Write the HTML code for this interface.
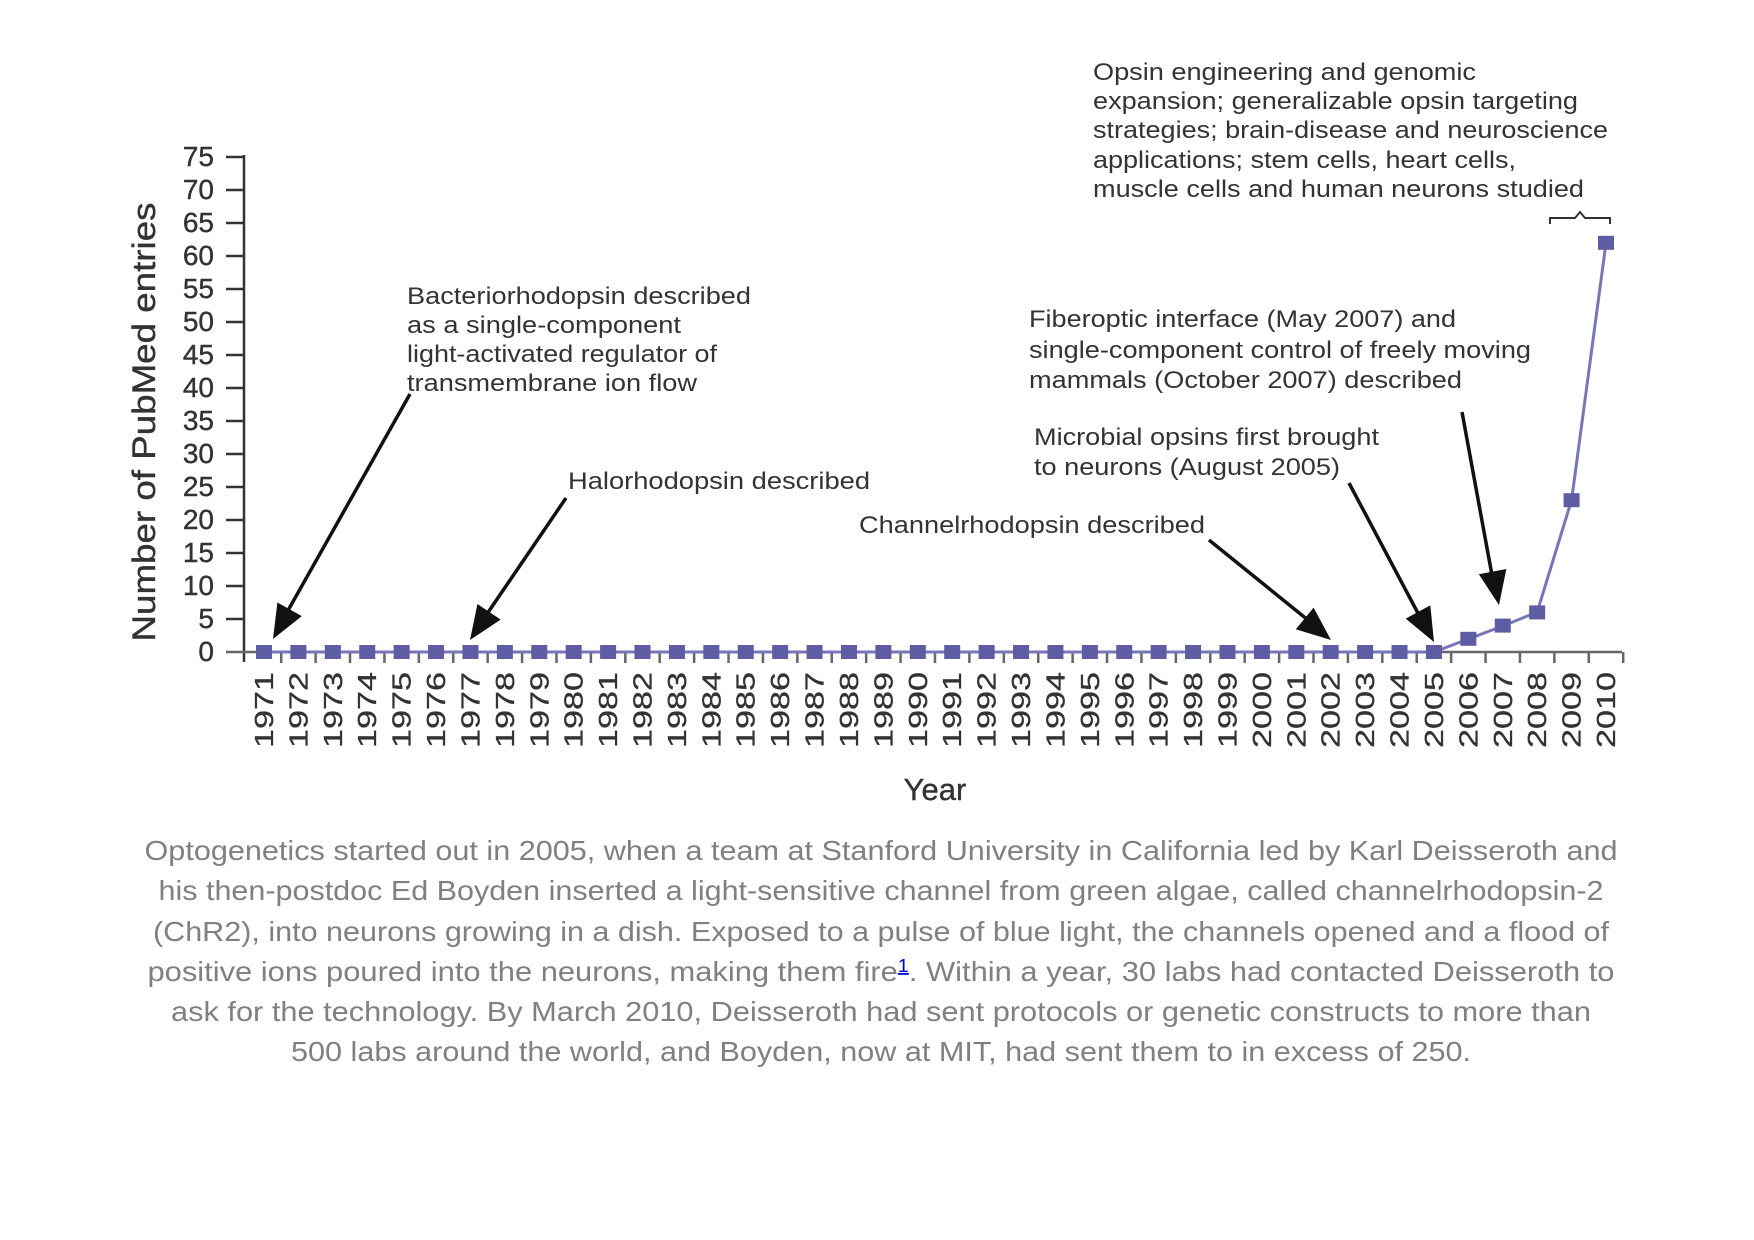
<!DOCTYPE html>
<html><head><meta charset="utf-8"><style>html,body{margin:0;padding:0;background:#fff}svg{display:block}</style></head>
<body>
<svg width="1754" height="1240" viewBox="0 0 1754 1240" xmlns="http://www.w3.org/2000/svg" font-family="Liberation Sans, Arial, sans-serif">
<rect width="1754" height="1240" fill="#fff"/>
<g stroke="#333" stroke-width="2.5">
<line x1="244" y1="155" x2="244" y2="662"/>
<line x1="226" y1="157" x2="244" y2="157"/><line x1="226" y1="190" x2="244" y2="190"/><line x1="226" y1="223" x2="244" y2="223"/><line x1="226" y1="256" x2="244" y2="256"/><line x1="226" y1="289" x2="244" y2="289"/><line x1="226" y1="322" x2="244" y2="322"/><line x1="226" y1="355" x2="244" y2="355"/><line x1="226" y1="388" x2="244" y2="388"/><line x1="226" y1="421" x2="244" y2="421"/><line x1="226" y1="454" x2="244" y2="454"/><line x1="226" y1="487" x2="244" y2="487"/><line x1="226" y1="520" x2="244" y2="520"/><line x1="226" y1="553" x2="244" y2="553"/><line x1="226" y1="586" x2="244" y2="586"/><line x1="226" y1="619" x2="244" y2="619"/>
</g>
<line x1="226" y1="652" x2="1622" y2="652" stroke="#666" stroke-width="2.5"/>
<g stroke="#666" stroke-width="2.5" id="xt"></g>
<g font-size="28" fill="#333" text-anchor="end" stroke="#333" stroke-width="0.4">
<text x="214" y="166">75</text><text x="214" y="199">70</text><text x="214" y="232">65</text><text x="214" y="265">60</text><text x="214" y="298">55</text><text x="214" y="331">50</text><text x="214" y="364">45</text><text x="214" y="397">40</text><text x="214" y="430">35</text><text x="214" y="463">30</text><text x="214" y="496">25</text><text x="214" y="529">20</text><text x="214" y="562">15</text><text x="214" y="595">10</text><text x="214" y="628">5</text><text x="214" y="661">0</text>
</g>
<text transform="translate(155,422) rotate(-90)" font-size="32" fill="#333" stroke="#333" stroke-width="0.4" text-anchor="middle" textLength="439" lengthAdjust="spacingAndGlyphs">Number of PubMed entries</text>
<text x="935" y="800" font-size="31" fill="#333" stroke="#333" stroke-width="0.4" text-anchor="middle">Year</text>
<g id="years" font-size="26" fill="#333" stroke="#333" stroke-width="0.3" text-anchor="end"></g>
<polyline fill="none" stroke="#7776b8" stroke-width="3" points="264,652 1433.9,652 1468.4,639 1502.8,626 1537.2,612 1571.6,500 1606,243"/>
<g id="mk" fill="#5e5ca3"></g>
<g font-size="24" fill="#333">
<text x="407" y="304" textLength="344" lengthAdjust="spacingAndGlyphs">Bacteriorhodopsin described</text>
<text x="407" y="333" textLength="274" lengthAdjust="spacingAndGlyphs">as a single-component</text>
<text x="407" y="362" textLength="310" lengthAdjust="spacingAndGlyphs">light-activated regulator of</text>
<text x="407" y="391" textLength="290" lengthAdjust="spacingAndGlyphs">transmembrane ion flow</text>
<text x="568" y="489" textLength="302" lengthAdjust="spacingAndGlyphs">Halorhodopsin described</text>
<text x="859" y="533" textLength="346" lengthAdjust="spacingAndGlyphs">Channelrhodopsin described</text>
<text x="1034" y="445" textLength="345" lengthAdjust="spacingAndGlyphs">Microbial opsins first brought</text>
<text x="1034" y="475" textLength="306" lengthAdjust="spacingAndGlyphs">to neurons (August 2005)</text>
<text x="1029" y="327" textLength="427" lengthAdjust="spacingAndGlyphs">Fiberoptic interface (May 2007) and</text>
<text x="1029" y="358" textLength="502" lengthAdjust="spacingAndGlyphs">single-component control of freely moving</text>
<text x="1029" y="388" textLength="433" lengthAdjust="spacingAndGlyphs">mammals (October 2007) described</text>
<text x="1093" y="80" textLength="383" lengthAdjust="spacingAndGlyphs">Opsin engineering and genomic</text>
<text x="1093" y="109" textLength="485" lengthAdjust="spacingAndGlyphs">expansion; generalizable opsin targeting</text>
<text x="1093" y="138" textLength="515" lengthAdjust="spacingAndGlyphs">strategies; brain-disease and neuroscience</text>
<text x="1093" y="168" textLength="423" lengthAdjust="spacingAndGlyphs">applications; stem cells, heart cells,</text>
<text x="1093" y="197" textLength="491" lengthAdjust="spacingAndGlyphs">muscle cells and human neurons studied</text>
</g>
<path d="M1550,224 L1550,218 L1575,218 L1580,212 L1585,218 L1610,218 L1610,224" fill="none" stroke="#333" stroke-width="2"/>
<g stroke="#111" stroke-width="3.5" fill="none">
<line x1="410" y1="394" x2="277" y2="630"/>
<line x1="566" y1="498" x2="474" y2="633"/>
<line x1="1209" y1="540" x2="1324" y2="633"/>
<line x1="1349" y1="483" x2="1429" y2="634"/>
<line x1="1462" y1="412" x2="1496" y2="597"/>
</g>
<g fill="#111" id="heads"></g>
<g font-size="28" fill="#808080" text-anchor="middle">
<text x="881" y="860" textLength="1473" lengthAdjust="spacingAndGlyphs">Optogenetics started out in 2005, when a team at Stanford University in California led by Karl Deisseroth and</text>
<text x="881" y="900" textLength="1445" lengthAdjust="spacingAndGlyphs">his then-postdoc Ed Boyden inserted a light-sensitive channel from green algae, called channelrhodopsin-2</text>
<text x="881" y="941" textLength="1456" lengthAdjust="spacingAndGlyphs">(ChR2), into neurons growing in a dish. Exposed to a pulse of blue light, the channels opened and a flood of</text>
<text x="881" y="981" textLength="1467" lengthAdjust="spacingAndGlyphs">positive ions poured into the neurons, making them fire<tspan fill="#0000cc" font-size="18" dy="-9" text-decoration="underline">1</tspan><tspan dy="9">. Within a year, 30 labs had contacted Deisseroth to</tspan></text>
<text x="881" y="1021" textLength="1420" lengthAdjust="spacingAndGlyphs">ask for the technology. By March 2010, Deisseroth had sent protocols or genetic constructs to more than</text>
<text x="881" y="1061" textLength="1180" lengthAdjust="spacingAndGlyphs">500 labs around the world, and Boyden, now at MIT, had sent them to in excess of 250.</text>
</g>
</svg>
<script>
var ns="http://www.w3.org/2000/svg";
function el(t,a,p){var e=document.createElementNS(ns,t);for(var k in a)e.setAttribute(k,a[k]);p.appendChild(e);return e;}
var xt=document.getElementById('xt'),yr=document.getElementById('years'),mk=document.getElementById('mk');
var vals={35:2,36:4,37:6,38:23,39:62};
for(var i=0;i<40;i++){var x=264+i*34.41;
 el('line',{x1:x+17.2,y1:652,x2:x+17.2,y2:663},xt);
 var t=el('text',{transform:'translate('+(x+9)+',672) rotate(-90)',textLength:76,lengthAdjust:'spacingAndGlyphs'},yr);t.textContent=1971+i;
 var v=vals[i]||0;var y=652-v*6.6;
 el('rect',{x:x-8,y:y-7,width:16,height:14},mk);}
function head(x1,y1,x2,y2){var dx=x2-x1,dy=y2-y1,L=Math.sqrt(dx*dx+dy*dy);dx/=L;dy/=L;var l=34,w=14;
 var bx=x2-dx*l,by=y2-dy*l;el('path',{d:'M'+x2+','+y2+' L'+(bx-dy*w)+','+(by+dx*w)+' L'+(bx+dy*w)+','+(by-dx*w)+' z'},document.getElementById('heads'));}
head(410,394,273,639);head(566,498,470,640);head(1209,540,1331,640);head(1349,483,1434,642);head(1462,412,1499,605);
</script>
</body></html>
